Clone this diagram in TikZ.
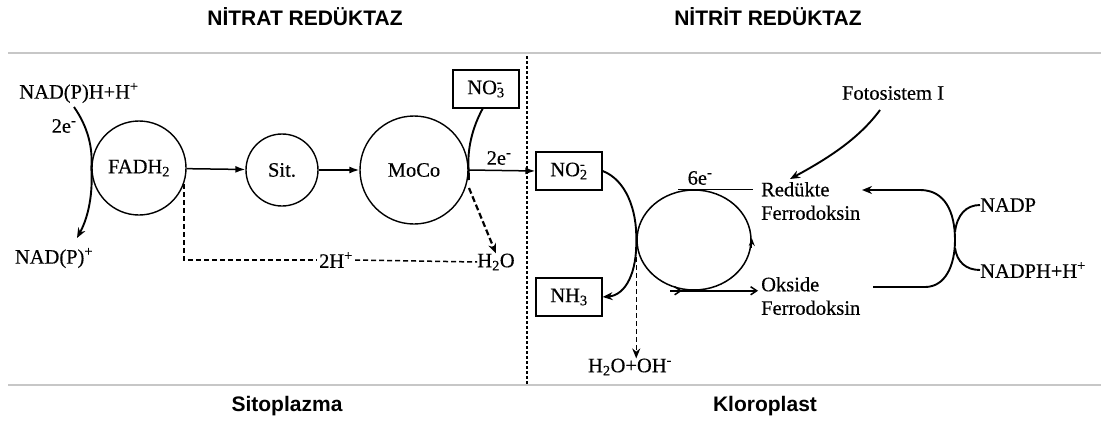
\documentclass[tikz,border=0pt]{standalone}
\usepackage{fontspec}
\setmainfont{Liberation Serif}
\newfontfamily\scanfont{Liberation Serif}[UprightFeatures={FakeBold=0.4}]
\newfontfamily\hdrfont{Liberation Sans}
\usetikzlibrary{arrows.meta,shapes.geometric,calc}
\tikzset{
  lbl/.style={font=\scanfont\fontsize{20.5}{23.5}\selectfont, inner sep=0pt},
  hdr/.style={font=\hdrfont\bfseries\fontsize{21}{24}\selectfont, inner sep=0pt},
  enz/.style={circle, draw, line width=1.4pt, inner sep=0pt, font=\scanfont\fontsize{20.5}{23.5}\selectfont},
  molbox/.style={draw, rectangle, line width=1.4pt, minimum width=66pt, minimum height=38pt, inner sep=0pt, font=\scanfont\fontsize{20.5}{23.5}\selectfont},
  heavy/.style={line width=1.9pt},
  flow/.style={line width=1.5pt, -{Latex[length=10pt,width=7pt]}},
  curvetip/.style={-{Stealth[length=10pt,width=8pt]}},
  dashflow/.style={line width=1.5pt, dash pattern=on 5pt off 3pt},
  divider/.style={draw=black!22, line width=1.2pt},
  sepline/.style={line width=1.4pt, dash pattern=on 3pt off 2pt}
}
\begin{document}
\begin{tikzpicture}[x=1pt,y=-1pt]
\useasboundingbox (0,0) rectangle (1101,423);

% headers, footers, frame lines
\node[hdr] (h1) at (305,17) {NİTRAT REDÜKTAZ};
\node[hdr] (h2) at (768,17) {NİTRİT REDÜKTAZ};
\node[hdr] (f1) at (287,406) {Sitoplazma};
\node[hdr] (f2) at (765,406) {Kloroplast};
\coordinate (tl) at (8,53);   \coordinate (tr) at (1101,53);
\coordinate (bl) at (8,385);  \coordinate (br) at (1101,385);
\draw[divider] (tl) -- (tr);
\draw[divider] (bl) -- (br);
\coordinate (vt) at (527,56); \coordinate (vb) at (527,385);
\draw[sepline] (vt) -- (vb);

% ---------- left: nitrate reductase ----------
\node[lbl] (nadph) at (79,93) {NAD(P)H+H\textsuperscript{+}};
\node[lbl] (e2a) at (64,126) {2e\textsuperscript{-}};
\node[lbl] (nadpp) at (54,258) {NAD(P)\textsuperscript{+}};
\node[enz, minimum size=94pt] (fad) at (139,168) {FADH\textsubscript{2}};
\node[enz, minimum size=72pt] (sit) at (282,170) {Sit.};
\node[enz, minimum size=108pt] (moco) at (414,170) {MoCo};
\node[molbox] (no3) at (486,89) {NO\rlap{\textsuperscript{-}}\textsubscript{3}};
\node[lbl] (e2b) at (499,158) {2e\textsuperscript{-}};
\node[lbl] (h2o) at (496,262) {H\textsubscript{2}O};
\node[lbl, fill=white, inner sep=2pt] (hplus) at (336,260) {2H\textsuperscript{+}};

\coordinate (nadin) at (74,107);
\coordinate (nadout) at (77,238);
\draw[heavy, curvetip] (nadin) .. controls (88,127) and (93,148) .. (fad.west)
      .. controls (93,192) and (89,216) .. (nadout);

\draw[flow] (fad) -- (sit);
\draw[flow] (sit) -- (moco);

\draw[dashflow] (fad.-20) |- (hplus.west);
\draw[dashflow] (hplus.east) -- (h2o.west);

\coordinate (no3in) at (483,108);
\coordinate (mocoend) at (469,180);
\draw[heavy] (no3in) .. controls (472,128) and (467,150) .. (moco.east) -- (mocoend);
\coordinate (h2ostart) at (469,188);
\draw[line width=2.2pt, dash pattern=on 6pt off 3pt, curvetip] (h2ostart) -- (h2o.north);

% ---------- right: nitrite reductase ----------
\node[molbox] (no2) at (569,171) {NO\rlap{\textsuperscript{-}}\textsubscript{2}};
\node[molbox] (nh3) at (569,297) {NH\textsubscript{3}};
\draw[flow] (moco.east) -- (no2.west);

\node[ellipse, draw, line width=1.5pt, minimum width=114pt, minimum height=100pt, inner sep=0pt] (fd) at (694,240) {};
\node[lbl] (e6) at (700,178) {6e\textsuperscript{-}};
\node[lbl, anchor=west, align=left] (red) at (761,201) {Redükte\\Ferrodoksin};
\node[lbl, anchor=west, align=left] (ox) at (761,296) {Okside\\Ferrodoksin};
\node[lbl] (fs) at (893,93) {Fotosistem I};
\node[lbl, anchor=west] (nadpr) at (980,205) {NADP};
\node[lbl, anchor=west] (nadph2) at (980,270) {NADPH+H\textsuperscript{+}};
\node[lbl] (ho) at (630,367) {H\textsubscript{2}O+OH\textsuperscript{-}};

\draw[heavy, curvetip] (no2.east) .. controls (626,180) and (637,210) .. (fd.west)
      .. controls (637,272) and (626,295) .. (nh3.east);

% ferredoxin cycle details
\draw[line width=1.5pt, shorten >=8pt] ([xshift=-16pt]fd.north) -- (red.west |- fd.north);
\draw[line width=1.2pt, -{Stealth[length=8pt,width=6pt]}] ([yshift=-8pt]fd.east) -- ([yshift=2pt]fd.east);
\draw[line width=1.5pt, -{Straight Barb[length=6pt,width=8pt]}] ([xshift=-24pt]fd.south) -- ([xshift=-12pt]fd.south);
\draw[line width=1.5pt, shorten >=3pt, -{Straight Barb[length=6pt,width=8pt]}] ([xshift=-14pt]fd.south) -- (ox.west |- fd.south);

\draw[dashflow, curvetip] ([yshift=-17pt]fd.west) -- (fd.west |- ho.north);

\coordinate (fsstart) at (880,110);
\coordinate (fsend) at (790,179);
\draw[heavy, curvetip] (fsstart) .. controls (858,140) and (825,160) .. (fsend);

\coordinate (lpin) at (873,287);
\coordinate (lpout) at (862,190);
\draw[heavy, curvetip] (lpin) -- (925,287) .. controls (945,287) and (955,266) .. (955,240)
      .. controls (955,212) and (945,190) .. (920,190) -- (lpout);
\coordinate (brtop) at (955,232);
\coordinate (brbot) at (955,248);
\draw[heavy] (brtop) .. controls (957,215) and (966,205) .. (nadpr.west);
\draw[heavy] (brbot) .. controls (957,262) and (966,270) .. (nadph2.west);
\end{tikzpicture}
\end{document}
